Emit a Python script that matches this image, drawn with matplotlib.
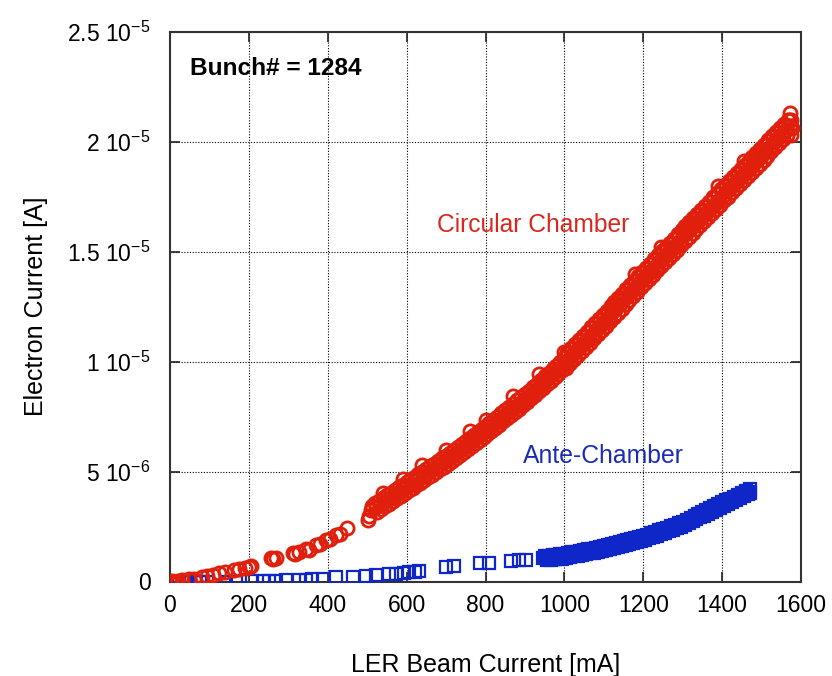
import matplotlib
matplotlib.use('Agg')
import matplotlib.pyplot as plt

plt.rcParams['font.family'] = ['Liberation Sans', 'DejaVu Sans']
plt.rcParams['mathtext.fontset'] = 'custom'
plt.rcParams['mathtext.rm'] = 'Liberation Sans'
plt.rcParams['mathtext.it'] = 'Liberation Sans:italic'
plt.rcParams['mathtext.bf'] = 'Liberation Sans:bold'
plt.rcParams['mathtext.default'] = 'regular'

# ---------------- data (beam current in mA, electron current in micro-A) -------------
circ_x = [0, 5, 12, 20, 30, 48, 60, 82, 95, 110, 124, 140, 163, 175, 190, 200, 205,
          256, 262, 268, 311, 318, 328, 345, 352, 370, 380, 395, 405, 421, 430, 450,
          501, 505, 510, 512,
          520, 525, 530, 535, 540, 545, 550, 555, 560, 565, 570, 575, 580, 585, 590, 595,
          600, 605, 610, 615, 620, 625, 630, 635, 640, 645, 650, 655, 660, 665, 670, 675,
          680, 685, 690, 695, 700, 705, 710, 715, 720, 725, 730, 735, 740, 745, 750, 755,
          760, 765, 770, 775, 780, 785, 790, 795, 800, 805, 810, 815, 820, 825, 830, 835,
          840, 845, 850, 855, 860, 865, 870, 875, 880, 885, 890, 895, 900, 905, 910, 915,
          920, 925, 930, 935, 940, 945, 950, 955, 960, 965, 970, 975, 980, 985, 990, 995,
          1000, 1005, 1010, 1015, 1020, 1025, 1030, 1035, 1040, 1045, 1050, 1055, 1060, 1065,
          1070, 1075, 1080, 1085, 1090, 1095, 1100, 1105, 1110, 1115, 1120, 1125, 1130, 1135,
          1140, 1145, 1150, 1155, 1160, 1165, 1170, 1175, 1180, 1185, 1190, 1195, 1200, 1205,
          1210, 1215, 1220, 1225, 1230, 1235, 1240, 1245, 1250, 1255, 1260, 1265, 1270, 1275,
          1280, 1285, 1290, 1295, 1300, 1305, 1310, 1315, 1320, 1325, 1330, 1335, 1340, 1345,
          1350, 1355, 1360, 1365, 1370, 1375, 1380, 1385, 1390, 1395, 1400, 1405, 1410, 1415,
          1420, 1425, 1430, 1435, 1440, 1445, 1450, 1455, 1460, 1465, 1470, 1475, 1480, 1485,
          1490, 1495, 1500, 1505, 1510, 1515, 1520, 1525, 1530, 1535, 1540, 1545, 1550, 1555,
          1560, 1565, 1570, 1572, 1575, 1576, 1574,
          540, 590, 640, 700, 760, 800, 870, 935, 1000, 1180, 1245, 1390, 1455,
          522, 532, 542, 552, 562, 572, 582, 592, 602, 612, 622, 632, 642, 652, 662, 672,
          682, 692, 702, 712, 722, 732, 742, 752, 762, 772, 782, 792, 802, 812, 822, 832,
          842, 852, 862, 872, 882, 892, 902, 912, 922, 932, 942, 952, 962, 972, 982, 992,
          1002, 1012, 1022, 1032, 1042, 1052, 1062, 1072, 1082, 1092, 1102, 1112, 1122, 1132,
          1142, 1152, 1162, 1172, 1182, 1192, 1202, 1212, 1222, 1232, 1242, 1252, 1262, 1272,
          1282, 1292, 1302, 1312, 1322, 1332, 1342, 1352, 1362, 1372, 1382, 1392, 1402, 1412,
          1422, 1432, 1442, 1452, 1462, 1472, 1482, 1492, 1502, 1512, 1522, 1532, 1542, 1552,
          1562, 1572,
          1007, 1017, 1027, 1037, 1047, 1057, 1067, 1077, 1087, 1097, 1107, 1117, 1127, 1137,
          1147, 1157, 1167, 1177, 1187, 1197, 1207, 1217, 1227, 1237, 1247, 1257, 1267, 1277,
          1287, 1297, 1307, 1317, 1327, 1337, 1347, 1357, 1367, 1377, 1387, 1397, 1407, 1417,
          1427, 1437, 1447, 1457, 1467, 1477, 1487, 1497, 1507, 1517, 1527, 1537, 1547, 1557,
          1567]
circ_y = [0.0, 0.02, 0.0, 0.03, 0.05, 0.10, 0.12, 0.22, 0.25, 0.30, 0.37, 0.42, 0.52, 0.55, 0.62, 0.67, 0.72,
          1.05, 1.02, 1.05, 1.28, 1.25, 1.35, 1.50, 1.45, 1.66, 1.72, 1.89, 1.95, 2.11, 2.15, 2.42,
          2.80, 3.00, 3.25, 3.45,
          3.56, 3.18, 3.68, 3.30, 3.80, 3.42, 3.92, 3.54, 4.04, 3.66, 4.16, 3.78, 4.28, 3.90, 4.40, 4.02,
          4.52, 4.14, 4.64, 4.26, 4.76, 4.38, 4.88, 4.50, 5.00, 4.62, 5.12, 4.74, 5.24, 4.86, 5.36, 4.98,
          5.48, 5.10, 5.60, 5.22, 5.72, 5.35, 5.85, 5.48, 5.99, 5.61, 6.12, 5.75, 6.26, 5.89, 6.39, 6.02,
          6.53, 6.16, 6.66, 6.29, 6.80, 6.43, 6.93, 6.56, 7.07, 6.70, 7.21, 6.85, 7.36, 6.99, 7.50, 7.13,
          7.64, 7.28, 7.79, 7.43, 7.94, 7.57, 8.08, 7.72, 8.23, 7.86, 8.37, 8.01, 8.52, 8.16, 8.68, 8.32,
          8.84, 8.48, 9.00, 8.64, 9.16, 8.80, 9.32, 8.96, 9.48, 9.12, 9.64, 9.28, 9.80, 9.44, 9.96, 9.60,
          10.18, 9.72, 10.37, 9.91, 10.56, 10.10, 10.75, 10.29, 10.94, 10.48, 11.13, 10.67, 11.32, 10.86,
          11.51, 11.05, 11.70, 11.24, 11.89, 11.43, 12.08, 11.62, 12.28, 11.82, 12.47, 12.01, 12.67, 12.21,
          12.86, 12.40, 13.06, 12.60, 13.25, 12.79, 13.45, 12.99, 13.64, 13.18, 13.84, 13.38, 14.03, 13.57,
          14.22, 13.76, 14.41, 13.95, 14.60, 14.14, 14.79, 14.33, 14.98, 14.52, 15.17, 14.71, 15.36, 14.90,
          15.55, 15.09, 15.74, 15.28, 15.93, 15.47, 16.12, 15.65, 16.30, 15.84, 16.49, 16.02, 16.67, 16.21,
          16.86, 16.39, 17.04, 16.58, 17.23, 16.76, 17.41, 16.95, 17.60, 17.13, 17.78, 17.32, 17.97, 17.50,
          18.15, 17.69, 18.34, 17.87, 18.52, 18.06, 18.71, 18.24, 18.89, 18.43, 19.08, 18.61, 19.26, 18.80,
          19.45, 18.98, 19.63, 19.17, 19.82, 19.36, 20.01, 19.55, 20.20, 19.74, 20.39, 19.93, 20.58, 20.12,
          20.77, 20.31, 20.96, 21.30, 21.00, 20.60, 20.30,
          4.02, 4.65, 5.30, 6.00, 6.85, 7.35, 8.45, 9.45, 10.45, 14.00, 15.20, 18.00, 19.10,
          3.37, 3.49, 3.61, 3.73, 3.85, 3.97, 4.09, 4.21, 4.33, 4.45, 4.57, 4.69, 4.81, 4.93, 5.05, 5.17,
          5.29, 5.41, 5.53, 5.66, 5.80, 5.93, 6.07, 6.20, 6.34, 6.47, 6.61, 6.74, 6.88, 7.02, 7.17, 7.31,
          7.45, 7.60, 7.75, 7.89, 8.04, 8.18, 8.33, 8.49, 8.65, 8.81, 8.97, 9.13, 9.29, 9.45, 9.61, 9.77,
          9.94, 10.13, 10.32, 10.51, 10.70, 10.89, 11.08, 11.27, 11.46, 11.65, 11.84, 12.04, 12.23, 12.43,
          12.62, 12.82, 13.01, 13.21, 13.40, 13.60, 13.79, 13.98, 14.17, 14.36, 14.55, 14.74, 14.93, 15.12,
          15.31, 15.50, 15.69, 15.88, 16.06, 16.25, 16.43, 16.62, 16.80, 16.99, 17.17, 17.36, 17.54, 17.73,
          17.91, 18.10, 18.28, 18.47, 18.65, 18.84, 19.02, 19.21, 19.39, 19.58, 19.77, 19.96, 20.15, 20.34,
          20.53, 20.72,
          10.41, 10.60, 10.79, 10.98, 11.17, 11.36, 11.55, 11.74, 11.93, 12.12, 12.31, 12.51, 12.70, 12.90,
          13.09, 13.29, 13.48, 13.68, 13.87, 14.07, 14.26, 14.45, 14.64, 14.83, 15.02, 15.21, 15.40, 15.59,
          15.78, 15.97, 16.16, 16.35, 16.53, 16.72, 16.90, 17.09, 17.27, 17.46, 17.64, 17.83, 18.01, 18.20,
          18.38, 18.57, 18.75, 18.94, 19.12, 19.31, 19.49, 19.68, 19.86, 20.05, 20.24, 20.43, 20.62, 20.81,
          21.00]

ante_x = [2, 8, 15, 23, 32, 40, 65, 75, 82, 95, 141, 167, 209, 235, 251, 268, 294, 328, 345, 361,
          387, 421, 463, 497, 522, 556, 573, 593, 607, 620, 632, 700, 721, 785, 810, 865, 886, 903, 946,
          950, 955, 960, 965, 970, 975, 980, 985, 990, 995, 1000, 1005, 1010, 1015, 1020, 1025,
          1030, 1035, 1040, 1045, 1050, 1055, 1060, 1065, 1070, 1075, 1080, 1085, 1090, 1095,
          1100, 1105, 1110, 1115, 1120, 1125, 1130, 1135, 1140, 1145, 1150, 1155, 1160, 1165,
          1170, 1175, 1180, 1185, 1190, 1195, 1200, 1205, 1210, 1215, 1220, 1225, 1230, 1235,
          1240, 1245, 1250, 1255, 1260, 1265, 1270, 1275, 1280, 1285, 1290, 1295, 1300, 1305,
          1310, 1315, 1320, 1325, 1330, 1335, 1340, 1345, 1350, 1355, 1360, 1365, 1370, 1375,
          1380, 1385, 1390, 1395, 1400, 1405, 1410, 1415, 1420, 1425, 1430, 1435, 1440, 1445,
          1450, 1455, 1460, 1465, 1470, 1470,
          957, 967, 977, 987, 997, 1007, 1017, 1027, 1037, 1047, 1057, 1067, 1077, 1087, 1097,
          1107, 1117, 1127, 1137, 1147, 1157, 1167, 1177, 1187, 1197, 1207, 1217, 1227, 1237,
          1247, 1257, 1267, 1277, 1287, 1297, 1307, 1317, 1327, 1337, 1347, 1357, 1367, 1377,
          1387, 1397, 1407, 1417, 1427, 1437, 1447, 1457, 1467]
ante_y = [0.0, 0.0, 0.0, 0.0, 0.0, 0.0, 0.0, 0.0, 0.0, 0.0, 0.0, 0.0, 0.02, 0.02, 0.03, 0.03, 0.05, 0.08, 0.08, 0.10,
          0.10, 0.19, 0.22, 0.27, 0.28, 0.33, 0.34, 0.38, 0.42, 0.45, 0.50, 0.67, 0.72, 0.83, 0.86, 0.93, 0.97, 0.98, 1.05,
          1.16, 0.97, 1.18, 0.99, 1.20, 1.01, 1.21, 1.02, 1.23, 1.04, 1.25, 1.07, 1.28, 1.10, 1.32, 1.14,
          1.35, 1.17, 1.39, 1.21, 1.42, 1.24, 1.46, 1.28, 1.49, 1.31, 1.53, 1.35, 1.56, 1.38,
          1.60, 1.43, 1.65, 1.47, 1.69, 1.52, 1.74, 1.56, 1.78, 1.61, 1.83, 1.66, 1.88, 1.70,
          1.92, 1.75, 1.97, 1.79, 2.01, 1.84, 2.06, 1.89, 2.12, 1.96, 2.19, 2.02, 2.25, 2.09,
          2.32, 2.15, 2.38, 2.21, 2.44, 2.28, 2.51, 2.34, 2.57, 2.41, 2.64, 2.47, 2.70, 2.55,
          2.79, 2.64, 2.88, 2.73, 2.97, 2.82, 3.06, 2.91, 3.15, 3.00, 3.24, 3.09, 3.33, 3.18,
          3.42, 3.27, 3.51, 3.36, 3.60, 3.45, 3.69, 3.53, 3.77, 3.62, 3.86, 3.71, 3.95, 3.79,
          4.03, 3.88, 4.12, 3.97, 4.21, 4.03,
          1.07, 1.09, 1.11, 1.12, 1.14, 1.17, 1.20, 1.24, 1.27, 1.31, 1.34, 1.38, 1.41, 1.45, 1.48,
          1.53, 1.58, 1.62, 1.67, 1.71, 1.76, 1.81, 1.85, 1.90, 1.94, 2.00, 2.06, 2.13, 2.19,
          2.26, 2.32, 2.38, 2.45, 2.51, 2.58, 2.66, 2.75, 2.84, 2.93, 3.02, 3.11, 3.20, 3.29,
          3.38, 3.47, 3.56, 3.65, 3.73, 3.82, 3.91, 3.99, 4.08]

y_ticks_uA = [0, 5, 10, 15, 20, 25]
y_tick_labels = ['0', '5 10$^{-6}$', '1 10$^{-5}$', '1.5 10$^{-5}$', '2 10$^{-5}$', '2.5 10$^{-5}$']
x_ticks = [0, 200, 400, 600, 800, 1000, 1200, 1400, 1600]

RED = '#E0200C'
BLUE = '#0F26C8'

fig = plt.figure(figsize=(8.32, 6.76), dpi=100)
ax = fig.add_axes([170 / 832, 1 - 581.5 / 676, 631 / 832, 550 / 676])

ax.plot(ante_x, [v * 1e-6 for v in ante_y], linestyle='none', marker='s', ms=8.5,
        mfc='none', mec=BLUE, mew=1.6, zorder=3)
ax.plot(circ_x, [v * 1e-6 for v in circ_y], linestyle='none', marker='o', ms=9.5,
        mfc='none', mec=RED, mew=2.0, zorder=4)

ax.set_xlim(0, 1600)
ax.set_ylim(0, 2.5e-5)
ax.set_xticks(x_ticks)
ax.set_xticklabels([str(v) for v in x_ticks])
ax.set_yticks([v * 1e-6 for v in y_ticks_uA])
ax.set_yticklabels(y_tick_labels)

ax.grid(True, color='black', linestyle=(0, (1, 1.5)), linewidth=0.8, zorder=1)
ax.set_axisbelow(True)
ax.tick_params(axis='both', which='major', direction='in', top=True, right=True,
               length=7, width=1.2, color='#222222', labelsize=16.5)
ax.tick_params(axis='x', pad=9)
ax.tick_params(axis='y', pad=14)
for sp in ax.spines.values():
    sp.set_linewidth(1.5)
    sp.set_color('#333333')

ax.set_xlabel('LER Beam Current [mA]', fontsize=18, labelpad=26)
ax.set_ylabel('Electron Current [A]', fontsize=18, labelpad=14)

ax.text(50, 23.34e-6, 'Bunch# = 1284', fontsize=17.6, fontweight='bold', color='black',
        ha='left', va='center')
ax.text(676, 16.2e-6, 'Circular Chamber', fontsize=17.7, color='#D8281E', ha='left', va='center')
ax.text(896, 5.7e-6, 'Ante-Chamber', fontsize=17.8, color='#1A2CB4', ha='left', va='center')

fig.savefig('out.png', dpi=100)
